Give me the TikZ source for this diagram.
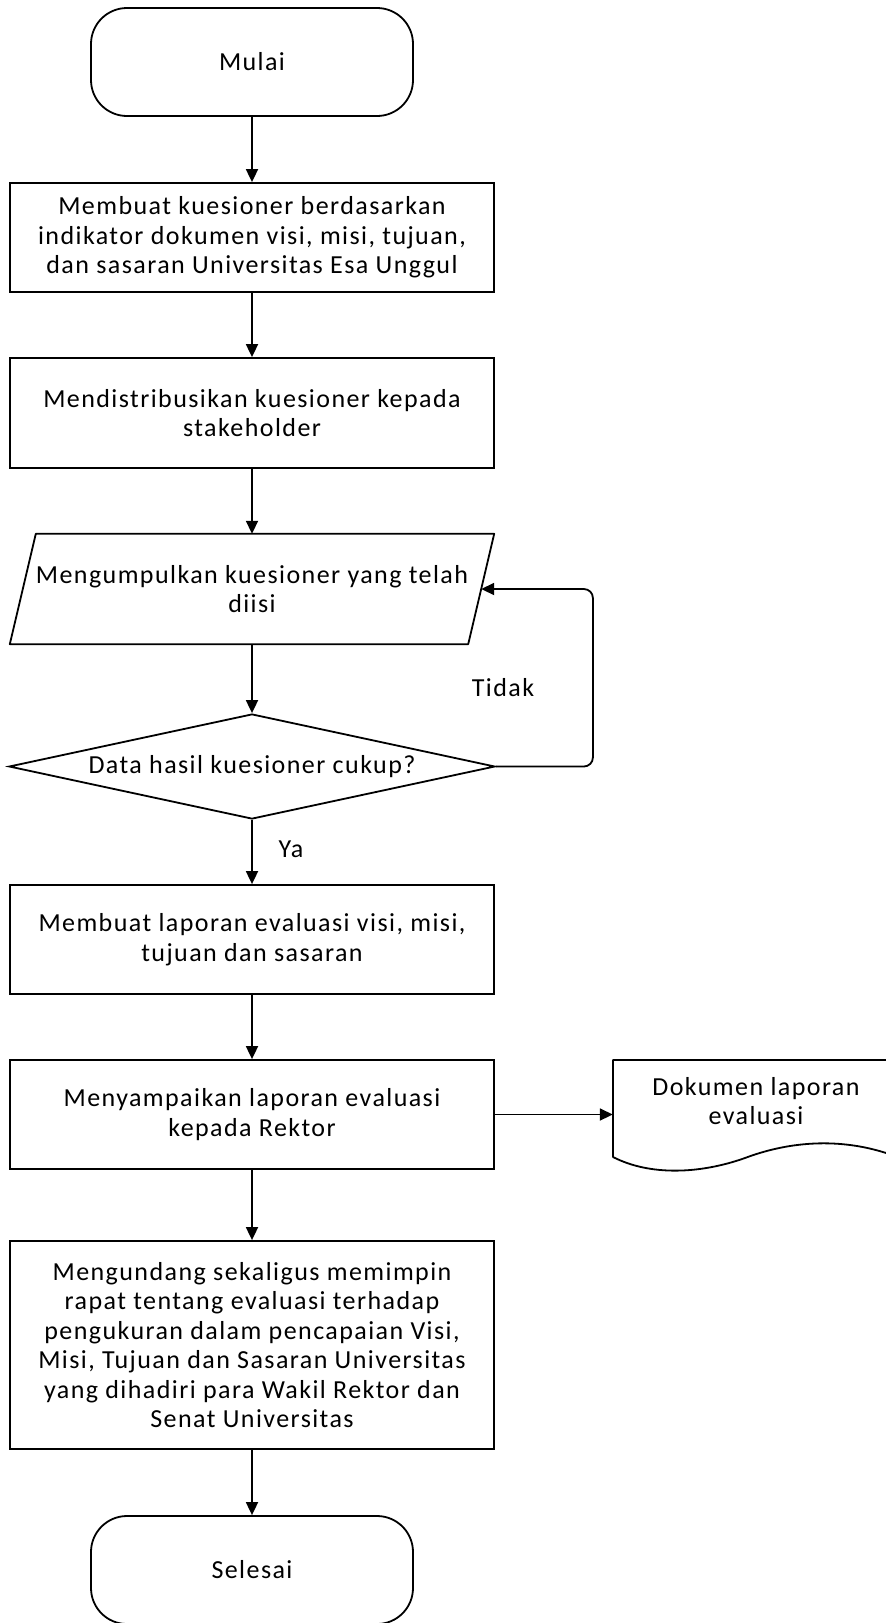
\documentclass[tikz,border=0pt]{standalone}
\usepackage{fontspec}
\setmainfont{Carlito}[LetterSpace=5.5]
\usetikzlibrary{arrows.meta,shapes.geometric}
\begin{document}
\begin{tikzpicture}[x=1pt,y=-1pt,
  every node/.style={font=\fontsize{26}{29.5}\selectfont, align=center, inner sep=0pt},
  line/.style={line width=1.8pt, line join=round},
  arr/.style={line, -{Triangle[length=13pt,width=12pt]}},
  proc/.style={draw, line width=1.8pt, minimum width=484pt},
  term/.style={draw, line width=1.8pt, rounded corners=36pt, minimum width=322pt},
]
\useasboundingbox (0,0) rectangle (886,1623);

\node[term, minimum height=108pt] (start) at (252,62) {Mulai};
\node[proc, minimum height=109pt] (b1) at (252,237.5) {Membuat kuesioner berdasarkan\\indikator dokumen visi, misi, tujuan,\\dan sasaran Universitas Esa Unggul};
\node[proc, minimum height=110pt] (b2) at (252,413) {Mendistribusikan kuesioner kepada\\stakeholder};
\node[minimum width=458pt, minimum height=110pt] (io) at (252,589) {Mengumpulkan kuesioner yang telah\\diisi};
\draw[line] ([xshift=13pt]io.north west) -- ([xshift=13pt]io.north east) -- ([xshift=-13pt]io.south east) -- ([xshift=-13pt]io.south west) -- cycle;
\node[draw, line width=1.8pt, shape=diamond, aspect=4.63, minimum width=486pt, minimum height=105pt] (dec) at (252,766.5) {Data hasil kuesioner cukup?};
\node[proc, minimum height=109pt] (b3) at (252,939.5) {Membuat laporan evaluasi visi, misi,\\tujuan dan sasaran};
\node[proc, minimum height=109pt] (b4) at (252,1114.5) {Menyampaikan laporan evaluasi\\kepada Rektor};
\node[minimum width=286pt, minimum height=82pt] (doc) at (756,1101) {Dokumen laporan\\evaluasi};
\draw[line] (900,1060) -- (613,1060) -- (613,1157)
  .. controls (650,1176) and (700,1174) .. (745,1158)
  .. controls (790,1141) and (845,1136) .. (900,1158);
\node[proc, minimum height=208pt] (b5) at (252,1345) {Mengundang sekaligus memimpin\\rapat tentang evaluasi terhadap\\pengukuran dalam pencapaian Visi,\\Misi, Tujuan dan Sasaran Universitas\\yang dihadiri para Wakil Rektor dan\\Senat Universitas};
\node[term, minimum height=108pt] (end) at (252,1570) {Selesai};

\draw[arr] (start) -- (b1);
\draw[arr] (b1) -- (b2);
\draw[arr] (b2) -- (io.north);
\draw[arr] (io.south) -- (dec.north);
\draw[arr] (dec.south) -- (b3);
\draw[arr] (b3) -- (b4);
\draw[arr] (b4.east) -- (b4.east -| doc.west);
\draw[arr] (b4) -- (b5);
\draw[arr] (b5) -- (end);
\draw[arr, rounded corners=9pt] (dec.east) -- ++(97,0) |- (io.east);

\node (tidak) at (503,688) {Tidak};
\node (ya) at (291,849) {Ya};
\end{tikzpicture}
\end{document}
